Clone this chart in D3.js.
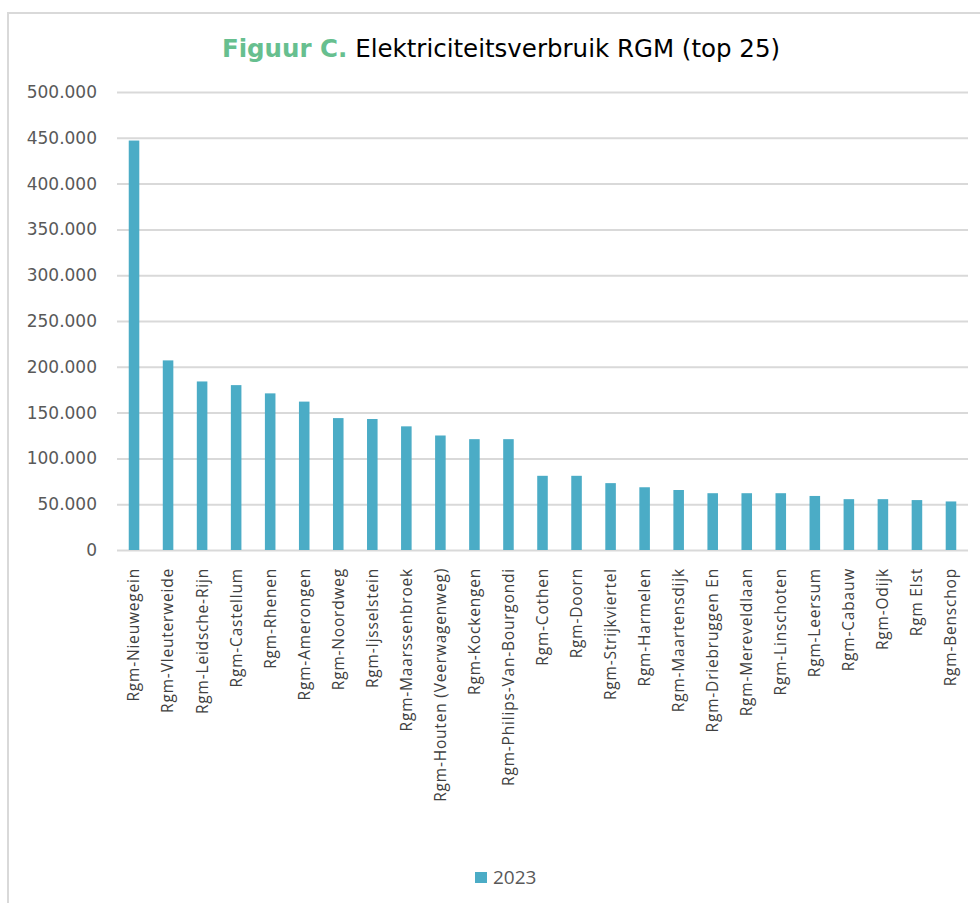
<!DOCTYPE html>
<html>
<head>
<meta charset="utf-8">
<script src="https://cdn.jsdelivr.net/npm/d3@7"></script>
<style>
  body { margin: 0; background: #fff; }
</style>
</head>
<body>
<script>
// Locations (top 25) and electricity use in 2023
const locations = [
    "Rgm-Nieuwegein", "Rgm-Vleuterweide", "Rgm-Leidsche-Rijn", "Rgm-Castellum",
    "Rgm-Rhenen", "Rgm-Amerongen", "Rgm-Noordweg", "Rgm-Ijsselstein",
    "Rgm-Maarssenbroek", "Rgm-Houten (Veerwagenweg)", "Rgm-Kockengen",
    "Rgm-Philips-Van-Bourgondi", "Rgm-Cothen", "Rgm-Doorn", "Rgm-Strijkviertel",
    "Rgm-Harmelen", "Rgm-Maartensdijk", "Rgm-Driebruggen En", "Rgm-Mereveldlaan",
    "Rgm-Linschoten", "Rgm-Leersum", "Rgm-Cabauw", "Rgm-Odijk", "Rgm Elst",
    "Rgm-Benschop"
];
const values2023 = [
    447000, 207000, 184000, 180000, 171000, 162000, 144000, 143000, 135000,
    125000, 121000, 121000, 81000, 81000, 73000, 68500, 65500, 62000, 62000,
    62000, 59000, 55500, 55500, 54500, 53000
];
const yTicks = [0, 50000, 100000, 150000, 200000, 250000, 300000, 350000, 400000, 450000, 500000];
const seriesName = "2023";

const width = 980;
const height = 903;
const plot = { left: 117, right: 968, top: 92, bottom: 550 };
const barColor = "#4bacc6";

const nl = d3.formatLocale({ decimal: ",", thousands: ".", grouping: [3], currency: ["€", ""] });
const fmt = nl.format(",d");

const svg = d3.select("body")
    .append("svg")
    .attr("width", width)
    .attr("height", height);

// chart frame (runs off the right and bottom edge)
svg.append("rect")
    .attr("x", 8)
    .attr("y", 13)
    .attr("width", 1000)
    .attr("height", 1000)
    .attr("fill", "#fff")
    .attr("stroke", "#d9d9d9")
    .attr("stroke-width", 2);

const x = d3.scaleBand()
    .domain(locations)
    .range([plot.left, plot.right])
    .paddingInner(0.69)
    .paddingOuter(0.345);

const y = d3.scaleLinear()
    .domain([0, 500000])
    .range([plot.bottom, plot.top]);

// gridlines + y labels
const yAxis = d3.axisLeft(y)
    .tickValues(yTicks)
    .tickSize(-(plot.right - plot.left))
    .tickPadding(20)
    .tickFormat(fmt);

const yAxisGroup = svg.append("g")
    .attr("transform", `translate(${plot.left},0)`)
    .call(yAxis);

yAxisGroup.select(".domain").remove();
yAxisGroup.selectAll(".tick line")
    .attr("stroke", "#d9d9d9")
    .attr("stroke-width", 2);
yAxisGroup.selectAll(".tick text")
    .attr("fill", "#595959")
    .style("font-family", "'DejaVu Sans', Verdana, sans-serif")
    .style("font-size", "17px");

// bars
svg.append("g")
    .selectAll("rect")
    .data(values2023)
    .enter()
    .append("rect")
    .attr("x", (d, i) => x(locations[i]))
    .attr("y", d => y(d))
    .attr("width", x.bandwidth())
    .attr("height", d => y(0) - y(d))
    .attr("fill", barColor);

// category labels
const xAxis = d3.axisBottom(x).tickSize(0).tickPadding(0);
const xAxisGroup = svg.append("g")
    .attr("transform", `translate(0,${plot.bottom})`)
    .call(xAxis);
xAxisGroup.select(".domain").remove();
xAxisGroup.selectAll(".tick text")
    .attr("transform", "rotate(-90)")
    .attr("x", -18)
    .attr("y", 0)
    .attr("dy", "0.35em")
    .attr("text-anchor", "end")
    .attr("fill", "#404040")
    .style("font-family", "'Open Sans', sans-serif")
    .style("font-size", "15.5px")
    .style("letter-spacing", "0.8px");

// title
const title = svg.append("text")
    .attr("x", 501)
    .attr("y", 57)
    .attr("text-anchor", "middle")
    .style("font-family", "'DejaVu Sans', Verdana, sans-serif")
    .style("font-size", "24.5px");
title.append("tspan")
    .attr("fill", "#67bf8f")
    .attr("font-weight", "bold")
    .text("Figuur C.");
title.append("tspan")
    .attr("fill", "#000")
    .text(" Elektriciteitsverbruik RGM (top 25)");

// legend
const legend = svg.append("g");
legend.append("rect")
    .attr("x", 475)
    .attr("y", 872)
    .attr("width", 12)
    .attr("height", 11)
    .attr("fill", barColor);
legend.append("text")
    .attr("x", 493)
    .attr("y", 884)
    .attr("fill", "#595959")
    .style("font-family", "'Open Sans', sans-serif")
    .style("font-size", "19px")
    .text(seriesName);
</script>
</body>
</html>
